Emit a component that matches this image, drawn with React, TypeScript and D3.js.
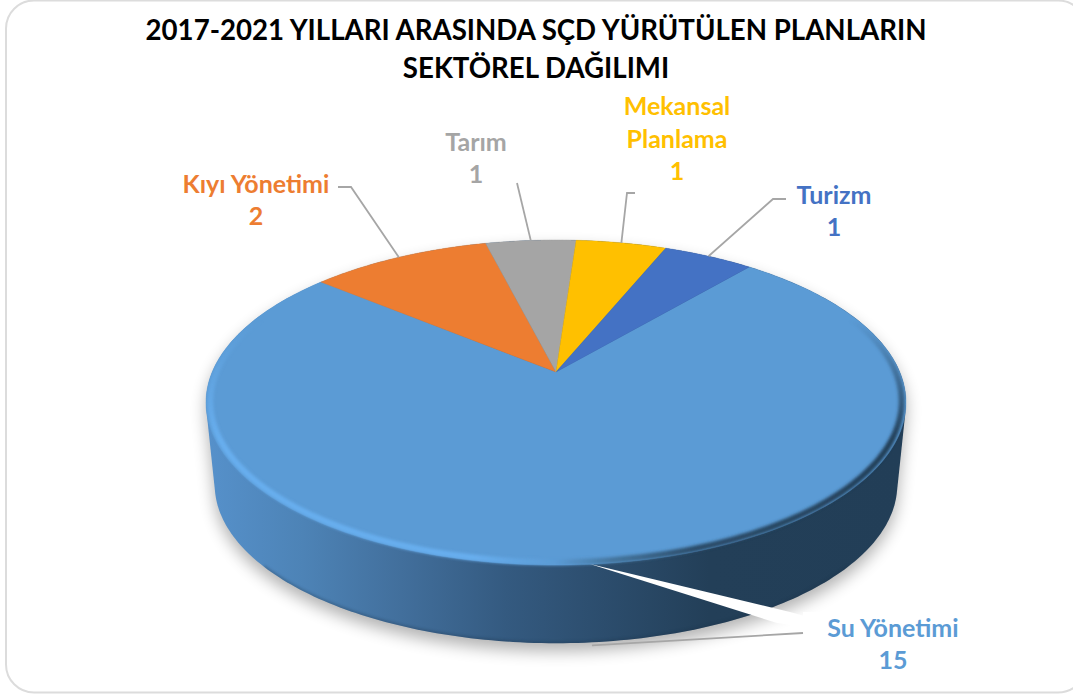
import React from "react";
import * as d3 from "d3";

const categories = ["Su Yönetimi", "Kıyı Yönetimi", "Tarım", "Mekansal Planlama", "Turizm"];
const values = [15, 2, 1, 1, 1];
const colors = ["#5B9BD5", "#ED7D31", "#A5A5A5", "#FFC000", "#4472C4"];
const titleLines = ["2017-2021 YILLARI ARASINDA SÇD YÜRÜTÜLEN PLANLARIN", "SEKTÖREL DAĞILIMI"];

const W = 1073;
const H = 695;
const FONT = "Lato, 'Open Sans', sans-serif";

// Perspective view of the disc: a homography applied to the unit circle
const APEX: [number, number] = [556, 372];
const persp = { a: 343.8, b: 156.8, c: -0.1877 };
const START = (40 * Math.PI) / 180;
const depth = { scale: 0.975, y: 455 };

function project(r: number, angle: number): [number, number] {
  const x = r * Math.sin(angle);
  const y = -r * Math.cos(angle);
  const d = 1 + persp.c * y;
  return [APEX[0] + (persp.a * x) / d, APEX[1] + (persp.b * y) / d];
}
function projectBottom(angle: number): [number, number] {
  const [x, y] = project(1, angle);
  return [APEX[0] + (x - APEX[0]) * depth.scale, depth.y + (y - APEX[1]) * depth.scale];
}

const line = d3.line();
const arcPoints = (a0: number, a1: number, r = 1, n = 120) =>
  d3.range(n + 1).map((i) => project(r, a0 + ((a1 - a0) * i) / n));

const pieGen = d3
  .pie<number>()
  .sort(null)
  .startAngle(START)
  .endAngle(START + 2 * Math.PI);
const slices = pieGen(values);

const allAngles = d3.range(0, 361).map((d) => (d * Math.PI) / 180);
const hull = d3.polygonHull([...allAngles.map((a) => project(1, a)), ...allAngles.map(projectBottom)] as [number, number][])!;
const hullPath = line(hull) + "Z";
const rimPath = line(arcPoints((50 * Math.PI) / 180, (310 * Math.PI) / 180, 0.988, 240))!;
const bottomEdge = line(d3.range(130, 231).map((d) => projectBottom((d * Math.PI) / 180)))!;

// Label layout, in slice order
const labelLayout = [
  { x: 893, lines: [["Su Yönetimi", 637], ["15", 669]] },
  { x: 256, lines: [["Kıyı Yönetimi", 193], ["2", 225]] },
  { x: 476, lines: [["Tarım", 151], ["1", 183]] },
  { x: 677, lines: [["Mekansal", 115], ["Planlama", 148], ["1", 180]] },
  { x: 834, lines: [["Turizm", 204], ["1", 236]] },
];
const leaderElbows: [number, number][][] = [
  [[803, 633]],
  [[338, 187], [351, 187]],
  [[517, 183]],
  [[635, 193], [627, 193]],
  [[786, 199], [773, 199]],
];

export default function App() {
  const mid = (s: (typeof slices)[number]) => (s.startAngle + s.endAngle) / 2;
  return (
    <svg width={W} height={H} viewBox={`0 0 ${W} ${H}`} style={{ position: "fixed", left: 0, top: 0, background: "#fff" }}>
      <defs>
        <linearGradient id="side" gradientUnits="userSpaceOnUse" x1={205} x2={905} y1={0} y2={0}>
          <stop offset="0" stopColor="#5691cb" />
          <stop offset="0.14" stopColor="#4d83b6" />
          <stop offset="0.28" stopColor="#426f9c" />
          <stop offset="0.43" stopColor="#345a80" />
          <stop offset="0.57" stopColor="#2c4d6d" />
          <stop offset="0.72" stopColor="#233f58" />
          <stop offset="1" stopColor="#223e57" />
        </linearGradient>
        <linearGradient id="rim" gradientUnits="userSpaceOnUse" x1={205} x2={905} y1={0} y2={0}>
          <stop offset="0" stopColor="#68aeee" />
          <stop offset="0.38" stopColor="#68aeee" />
          <stop offset="0.5" stopColor="#5b9bd5" />
          <stop offset="0.58" stopColor="#45769f" />
          <stop offset="0.7" stopColor="#2b4c69" />
          <stop offset="1" stopColor="#223e57" />
        </linearGradient>
        <linearGradient id="rimFade" gradientUnits="userSpaceOnUse" x1={0} x2={0} y1={320} y2={440}>
          <stop offset="0" stopColor="#000" />
          <stop offset="1" stopColor="#fff" />
        </linearGradient>
        <mask id="rimMask" maskUnits="userSpaceOnUse" x={0} y={0} width={W} height={H}>
          <rect width={W} height={H} fill="url(#rimFade)" />
        </mask>
        <filter id="shadowBlur" x="-10%" y="-10%" width="120%" height="120%">
          <feGaussianBlur stdDeviation="8" />
        </filter>
        <filter id="rimBlur" x="-5%" y="-5%" width="110%" height="110%">
          <feGaussianBlur stdDeviation="1.8" />
        </filter>
        <filter id="softBlur" x="-20%" y="-20%" width="140%" height="140%">
          <feGaussianBlur stdDeviation="0.5" />
        </filter>
        <clipPath id="hullClip">
          <path d={hullPath} />
        </clipPath>
      </defs>

      <rect x={6} y={0.5} width={1080} height={692} rx={28} fill="#fff" stroke="#dcdcdc" strokeWidth={2} />

      <path d={hullPath} transform="translate(0,8)" fill="#000" opacity={0.3} filter="url(#shadowBlur)" />
      <rect x={803} y={612} width={170} height={70} fill="#fff" />

      <path d={hullPath} fill="url(#side)" />
      <g clipPath="url(#hullClip)">
        <path d={bottomEdge} fill="none" stroke="#1b3147" strokeWidth={3} opacity={0.35} filter="url(#rimBlur)" />
      </g>

      {slices.map((s, i) => (
        <path
          key={categories[i]}
          d={line([APEX, ...arcPoints(s.startAngle, s.endAngle, 1, 180)]) + "Z"}
          fill={colors[i]}
          stroke={colors[i]}
          strokeWidth={0.4}
        />
      ))}
      <g clipPath="url(#hullClip)">
        <g mask="url(#rimMask)">
          <path d={rimPath} fill="none" stroke="url(#rim)" strokeWidth={6} filter="url(#rimBlur)" />
        </g>
      </g>

      <polygon points="590,564 790,612 812,618 812,628 777,623" fill="#fff" filter="url(#softBlur)" />

      {slices.map((s, i) => {
        const base = i === 0 ? projectBottom(mid(s)) : project(1, mid(s));
        const anchor: [number, number] = i === 0 ? [base[0], base[1] + 3] : base;
        const pts = [...leaderElbows[i], anchor] as [number, number][];
        return <path key={i} d={line(pts)!} fill="none" stroke="#a6a6a6" strokeWidth={1.8} />;
      })}

      {titleLines.map((t, i) => (
        <text key={t} x={536} y={40 + i * 38} textAnchor="middle" fontFamily={FONT} fontWeight={700} fontSize={27.65} fill="#000">
          {t}
        </text>
      ))}

      {labelLayout.map((l, i) =>
        l.lines.map(([t, y]) => (
          <text key={`${i}-${y}`} x={l.x} y={y as number} textAnchor="middle" fontFamily={FONT} fontWeight={700} fontSize={25} fill={colors[i]}>
            {t}
          </text>
        ))
      )}
    </svg>
  );
}
